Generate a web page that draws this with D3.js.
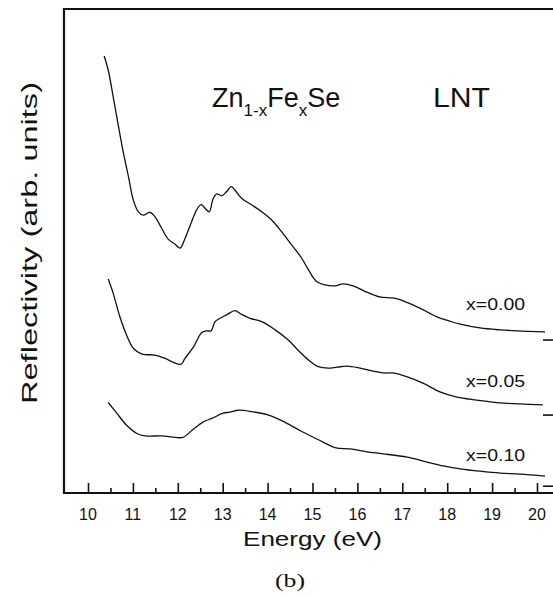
<!DOCTYPE html>
<html>
<head>
<meta charset="utf-8">
<script src="https://cdn.jsdelivr.net/npm/d3@7"></script>
<style>
  html, body { margin: 0; padding: 0; background: #fff; }
  svg { display: block; }
  text { font-family: Arial, "Liberation Sans", Helvetica, sans-serif; fill: #111; }
</style>
</head>
<body>
<svg id="chart" width="553" height="597"></svg>
<script>
// ---- data (energy in eV, reflectivity in arbitrary units) ----
const energy000 = [10.36,10.45,10.56,10.68,10.79,10.90,11.01,11.12,11.23,11.38,11.49,11.64,11.79,11.94,12.05,12.16,12.31,12.42,12.52,12.61,12.70,12.79,12.87,12.98,13.09,13.19,13.27,13.42,13.65,13.87,14.09,14.31,14.54,14.76,14.91,15.09,15.28,15.50,15.68,15.90,16.21,16.50,16.79,17.02,17.39,17.77,18.06,18.29,18.73,19.18,19.56,20.18];
const refl000   = [90.3,87.4,81.9,75.7,70.2,65.4,60.5,58.1,57.4,58.0,57.1,54.7,52.4,51.4,50.6,52.6,56.1,58.5,59.6,58.8,58.1,60.9,61.8,61.4,62.3,63.3,62.6,60.9,59.5,58.1,56.4,54.0,51.2,48.5,46.1,43.7,43.0,42.8,43.2,42.8,41.5,40.5,40.3,39.7,38.2,36.4,35.5,34.9,34.1,33.7,33.5,33.3];

const energy005 = [10.45,10.56,10.71,10.86,11.01,11.20,11.49,11.72,11.90,12.07,12.16,12.35,12.53,12.64,12.74,12.83,12.94,13.09,13.27,13.42,13.61,13.87,14.17,14.46,14.68,14.91,15.13,15.35,15.55,15.77,16.06,16.35,16.57,16.79,17.11,17.46,17.84,18.22,18.66,19.18,19.62,20.13];
const refl005   = [44.2,41.3,36.4,32.6,29.9,28.7,28.5,27.8,27.0,26.6,27.8,30.2,33.1,33.5,33.5,35.4,36.1,36.8,37.7,36.9,36.1,35.4,33.7,31.6,29.5,27.5,26.1,25.8,26.0,26.2,25.8,25.2,24.8,24.8,24.0,22.7,20.9,19.8,19.2,18.6,18.4,18.2];

const energy010 = [10.45,10.64,10.86,11.09,11.27,11.64,11.94,12.12,12.31,12.57,12.76,13.01,13.16,13.35,13.65,14.02,14.39,14.76,15.13,15.50,15.84,16.21,16.57,17.11,17.55,17.91,18.29,18.73,19.18,19.62,20.18];
const refl010   = [18.7,16.5,14.0,12.3,11.8,11.8,11.5,11.5,12.9,14.7,15.4,16.5,16.7,17.1,16.8,16.1,14.6,12.7,11.0,9.4,9.1,8.5,8.1,7.4,6.4,5.6,5.0,4.5,4.1,3.9,3.5];

const seriesLabels = ["x=0.00", "x=0.05", "x=0.10"];
const baselines    = [31.6, 16.1, 1.4];      // zero marks on the right edge
const labelEnergy  = 18.42;                   // annotation anchors (data units)
const labelRefl    = [37.8, 21.9, 6.6];
const majorTicks   = [10, 11, 12, 13, 14, 15, 16, 17, 18, 19, 20];
const minorTicks   = [10.5, 11.5, 12.5, 13.5, 14.5, 15.5, 16.5, 17.5, 18.5, 19.5];
const xTitle = "Energy (eV)";
const yTitle = "Reflectivity (arb. units)";

// ---- layout ----
const svg = d3.select("#chart");
const frameL = 64, frameT = 9, frameB = 493, frameR = 553;
const x = d3.scaleLinear().domain([10, 20]).range([88, 537]);
const y = d3.scaleLinear().domain([0, 100]).range([frameB, frameT]);

// frame (left, top, bottom; open at right)
svg.append("path")
  .attr("d", `M${frameR},${frameT}H${frameL}V${frameB}H${frameR}`)
  .attr("fill", "none").attr("stroke", "#111").attr("stroke-width", 2.2);

// bottom axis ticks (inward)
const xAxisMajor = d3.axisBottom(x).tickValues(majorTicks).tickSize(-10).tickFormat("");
const xAxisMinor = d3.axisBottom(x).tickValues(minorTicks).tickSize(-5).tickFormat("");
const gMaj = svg.append("g").attr("transform", `translate(0,${frameB})`).call(xAxisMajor);
const gMin = svg.append("g").attr("transform", `translate(0,${frameB})`).call(xAxisMinor);
[gMaj, gMin].forEach(g => {
  g.select(".domain").remove();
  g.selectAll("line").attr("stroke", "#111").attr("stroke-width", 1.6);
});

// tick labels
svg.append("g").selectAll("text").data(majorTicks).join("text")
  .attr("x", d => x(d)).attr("y", 520)
  .attr("text-anchor", "middle").attr("font-size", 16)
  .text(d => d);

// axis titles
svg.append("text")
  .attr("x", 312.5).attr("y", 546).attr("text-anchor", "middle")
  .attr("font-size", 20)
  .attr("textLength", 139).attr("lengthAdjust", "spacingAndGlyphs")
  .text(xTitle);

svg.append("text")
  .attr("transform", "translate(37,243) rotate(-90)")
  .attr("text-anchor", "middle").attr("font-size", 22)
  .attr("textLength", 322).attr("lengthAdjust", "spacingAndGlyphs")
  .text(yTitle);

// caption
svg.append("text")
  .attr("x", 290).attr("y", 587).attr("text-anchor", "middle")
  .style("font-family", "'Liberation Serif', 'DejaVu Serif', serif")
  .attr("font-size", 19)
  .attr("textLength", 30).attr("lengthAdjust", "spacingAndGlyphs")
  .text("(b)");

// in-plot titles
const title = svg.append("text").attr("x", 212).attr("y", 107).attr("font-size", 27);
title.append("tspan").text("Zn");
title.append("tspan").attr("font-size", 17).attr("dy", 9).text("1-x");
title.append("tspan").attr("dy", -9).text("Fe");
title.append("tspan").attr("font-size", 17).attr("dy", 9).text("x");
title.append("tspan").attr("dy", -9).text("Se");

svg.append("text").attr("x", 433).attr("y", 107).attr("font-size", 27)
  .attr("textLength", 57).attr("lengthAdjust", "spacingAndGlyphs")
  .text("LNT");

// curves
const series = [
  { e: energy000, r: refl000 },
  { e: energy005, r: refl005 },
  { e: energy010, r: refl010 }
];
const line = d3.line()
  .x(d => x(d[0])).y(d => y(d[1]))
  .curve(d3.curveCatmullRom.alpha(0.5));

svg.append("g").selectAll("path").data(series).join("path")
  .attr("d", s => line(s.e.map((v, i) => [v, s.r[i]])))
  .attr("fill", "none").attr("stroke", "#111").attr("stroke-width", 1.3)
  .attr("stroke-linejoin", "round");

// right-edge baseline marks
svg.append("g").selectAll("line").data(baselines).join("line")
  .attr("x1", frameR - 10).attr("x2", frameR)
  .attr("y1", d => y(d)).attr("y2", d => y(d))
  .attr("stroke", "#111").attr("stroke-width", 1.6);

// series labels
svg.append("g").selectAll("text").data(seriesLabels).join("text")
  .attr("x", x(labelEnergy)).attr("y", (d, i) => y(labelRefl[i]))
  .attr("font-size", 16)
  .attr("textLength", 59).attr("lengthAdjust", "spacingAndGlyphs")
  .text(d => d);
</script>
</body>
</html>
